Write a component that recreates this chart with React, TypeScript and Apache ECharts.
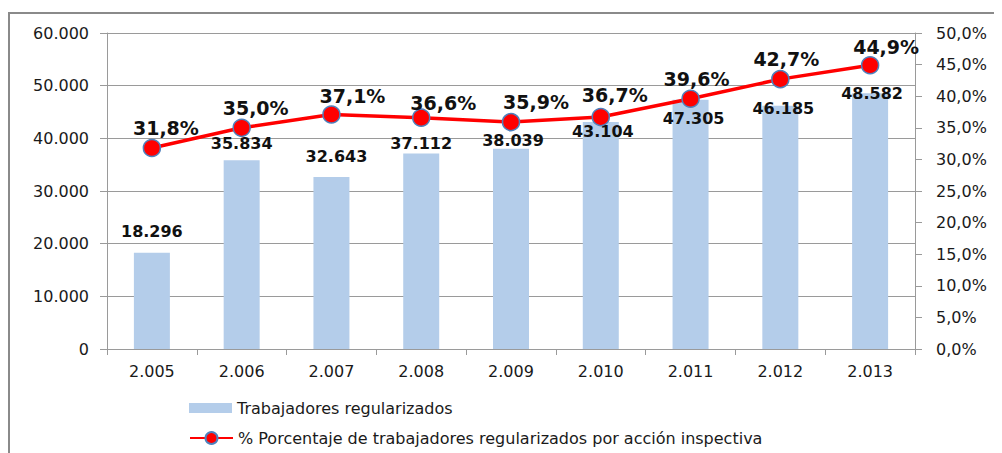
import React, { useEffect, useRef } from "react";
import * as echarts from "echarts";

const categories = ["2.005", "2.006", "2.007", "2.008", "2.009", "2.010", "2.011", "2.012", "2.013"];
const workers = [18296, 35834, 32643, 37112, 38039, 43104, 47305, 46185, 48582];
const percent = [31.8, 35.0, 37.1, 36.6, 35.9, 36.7, 39.6, 42.7, 44.9];
const barName = "Trabajadores regularizados";
const lineName = "% Porcentaje de trabajadores regularizados por acción inspectiva";

// label nudges (style only)
const barLabelNudge = [[0, -13], [0, -9], [5, -13], [0, -2], [2, 0], [2, 18], [3, 27], [3, 11], [2, 8]];
const lineLabelNudge = [[14, -20], [14, -20], [21, -19], [22, -15], [25, -20], [14, -22], [6, -20], [6, -20], [16, -18]];

const fmtThousands = (v: number) => {
  const s = String(Math.round(v));
  return s.replace(/\B(?=(\d{3})+(?!\d))/g, ".");
};
const fmtPct = (v: number) => v.toFixed(1).replace(".", ",") + "%";

const FONT = "DejaVu Sans";
const GRAY = "#9a9a9a";

export default function App() {
  const ref = useRef<HTMLDivElement>(null);
  useEffect(() => {
    if (!ref.current) return;
    const chart = echarts.init(ref.current, undefined, { renderer: "svg" });
    const legendText = { fontFamily: FONT, fontSize: 16, color: "#1a1a1a" };
    chart.setOption({
      animation: false,
      backgroundColor: "#ffffff",
      textStyle: { fontFamily: FONT },
      grid: { left: 99, right: 87, top: 25, bottom: 104, containLabel: false },
      graphic: [
        { type: "line", shape: { x1: 0, y1: 5, x2: 994, y2: 5 }, style: { stroke: "#8a8a8a", lineWidth: 2 } },
        { type: "line", shape: { x1: 1, y1: 5, x2: 1, y2: 445 }, style: { stroke: "#8a8a8a", lineWidth: 2 } },
      ],
      legend: [
        {
          orient: "horizontal",
          left: 176,
          top: 387,
          itemWidth: 43,
          itemHeight: 10,
          textStyle: legendText,
          data: [{ name: barName, icon: "rect" }],
        },
        {
          orient: "horizontal",
          left: 176,
          top: 417,
          itemWidth: 43,
          itemHeight: 15,
          textStyle: legendText,
          data: [{ name: lineName }],
        },
      ],
      xAxis: {
        type: "category",
        data: categories,
        boundaryGap: true,
        axisLine: { lineStyle: { color: GRAY, width: 1 } },
        axisTick: { show: true, length: 6, lineStyle: { color: GRAY } },
        axisLabel: { fontFamily: FONT, fontSize: 16, color: "#1a1a1a", margin: 14 },
      },
      yAxis: [
        {
          type: "value",
          min: 0,
          max: 60000,
          interval: 10000,
          axisLine: { show: true, lineStyle: { color: GRAY } },
          axisTick: { show: true, length: 7, lineStyle: { color: GRAY } },
          splitLine: { show: true, lineStyle: { color: GRAY, width: 1 } },
          axisLabel: {
            fontFamily: FONT,
            fontSize: 16,
            color: "#1a1a1a",
            margin: 18,
            formatter: (v: number) => fmtThousands(v),
          },
        },
        {
          type: "value",
          min: 0,
          max: 50,
          interval: 5,
          position: "right",
          axisLine: { show: true, lineStyle: { color: GRAY } },
          axisTick: { show: true, length: 7, lineStyle: { color: GRAY } },
          splitLine: { show: false },
          axisLabel: {
            fontFamily: FONT,
            fontSize: 16,
            color: "#1a1a1a",
            margin: 21,
            formatter: (v: number) => fmtPct(v),
          },
        },
      ],
      series: [
        {
          name: barName,
          type: "bar",
          yAxisIndex: 0,
          barWidth: 36,
          itemStyle: { color: "#b4cdea" },
          data: workers.map((v, i) => ({
            value: v,
            label: { offset: barLabelNudge[i] },
          })),
          label: {
            show: true,
            position: "top",
            distance: 0,
            fontFamily: FONT,
            fontWeight: "bold",
            fontSize: 16,
            color: "#111",
            formatter: (p: any) => fmtThousands(p.value),
          },
          z: 2,
        },
        {
          name: lineName,
          type: "line",
          yAxisIndex: 1,
          symbol: "circle",
          symbolSize: 17,
          lineStyle: { color: "#ff0000", width: 3.5 },
          itemStyle: { color: "#ff0000", borderColor: "#4f81bd", borderWidth: 1.5 },
          data: percent.map((v, i) => ({
            value: v,
            label: { offset: lineLabelNudge[i] },
          })),
          label: {
            show: true,
            position: "inside",
            fontFamily: FONT,
            fontWeight: "bold",
            fontSize: 19,
            color: "#111",
            formatter: (p: any) => fmtPct(p.value),
          },
          z: 5,
        },
      ],
    });
    return () => chart.dispose();
  }, []);
  return <div ref={ref} style={{ width: 994, height: 445 }} />;
}
